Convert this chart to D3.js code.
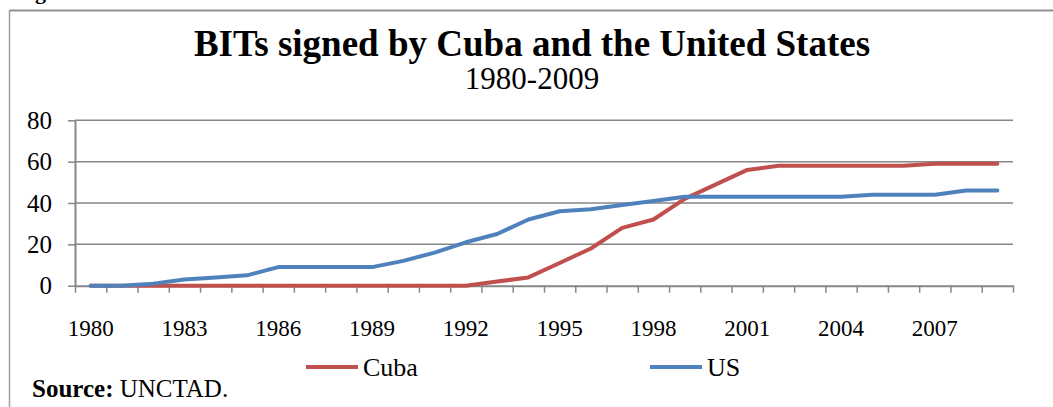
<!DOCTYPE html>
<html>
<head>
<meta charset="utf-8">
<script src="https://cdn.jsdelivr.net/npm/d3@7"></script>
<style>
  html, body { margin: 0; padding: 0; background: #fff; }
  svg { display: block; }
  text { font-family: "Liberation Serif", "Times New Roman", serif; fill: #000; }
</style>
</head>
<body>
<svg id="chart" width="1053" height="407"></svg>
<script>
// ---- data ----
const years = d3.range(1980, 2010);
const cuba = [0,0,0,0,0,0,0,0,0,0,0,0,0,2,4,11,18,28,32,42,49,56,58,58,58,58,58,59,59,59];
const us   = [0,0,1,3,4,5,9,9,9,9,12,16,21,25,32,36,37,39,41,43,43,43,43,43,43,44,44,44,46,46];
const yTicks = [0,20,40,60,80];
const xTickLabels = ["1980","1983","1986","1989","1992","1995","1998","2001","2004","2007"];
const seriesNames = ["Cuba","US"];
const seriesColors = ["#C0504D","#4F81BD"];

// ---- layout ----
const W = 1053, H = 407;
const plot = {left: 75, right: 1013, top: 120.3, bottom: 285.7};
const svg = d3.select("#chart");

// frame of the figure box
svg.append("line").attr("x1",9.5).attr("x2",W).attr("y1",10.5).attr("y2",10.5)
  .attr("stroke","#8f8f8f").attr("stroke-width",2);
svg.append("line").attr("x1",9.5).attr("x2",9.5).attr("y1",10).attr("y2",H)
  .attr("stroke","#a0a0a0").attr("stroke-width",1.5);
// caption above the box, mostly outside the picture (as in the reference)
svg.append("text").attr("x",15.5).attr("y",-1).attr("font-weight","bold")
  .attr("font-size",22).text("Figure");

// titles
svg.append("text").attr("x",532).attr("y",56).attr("text-anchor","middle")
  .attr("font-weight","bold").attr("font-size",37)
  .text("BITs signed by Cuba and the United States");
svg.append("text").attr("x",532).attr("y",89).attr("text-anchor","middle")
  .attr("font-size",31).text("1980-2009");

// scales
const x = d3.scaleBand().domain(years).range([plot.left, plot.right]).padding(0);
const xb = d3.scaleLinear().domain([0, years.length]).range([plot.left, plot.right]);
const y = d3.scaleLinear().domain([0,80]).range([plot.bottom, plot.top]);
const cx = d => x(d) + x.bandwidth()/2;

// gridlines
svg.append("g").selectAll("line").data(yTicks.filter(v => v > 0)).join("line")
  .attr("x1", plot.left).attr("x2", plot.right)
  .attr("y1", d => y(d)).attr("y2", d => y(d))
  .attr("stroke","#868686").attr("stroke-width",1.5);

// y axis
const yAxis = svg.append("g").attr("transform",`translate(${plot.left},0)`)
  .call(d3.axisLeft(y).tickValues(yTicks).tickSizeInner(7).tickSizeOuter(0).tickFormat(""));
yAxis.select(".domain").attr("stroke","#868686").attr("stroke-width",2);
yAxis.selectAll(".tick line").attr("stroke","#868686").attr("stroke-width",1.5);
svg.append("g").selectAll("text").data(yTicks).join("text")
  .attr("x", 52).attr("y", d => y(d)).attr("dy","0.35em").attr("text-anchor","end")
  .attr("font-size",25).text(d => d);

// x axis (ticks between categories)
const xAxis = svg.append("g").attr("transform",`translate(0,${plot.bottom})`)
  .call(d3.axisBottom(xb).tickValues(d3.range(years.length+1)).tickSizeInner(7).tickSizeOuter(0).tickFormat(""));
xAxis.select(".domain").attr("stroke","#868686").attr("stroke-width",2);
xAxis.selectAll(".tick line").attr("stroke","#868686").attr("stroke-width",1.5);

// x labels
svg.append("g").selectAll("text").data(xTickLabels).join("text")
  .attr("x", d => cx(+d)).attr("y", 336).attr("text-anchor","middle")
  .attr("font-size",23).text(d => d);

// lines
const line = d3.line().x((d,i) => cx(years[i])).y(d => y(d));
[cuba, us].forEach((s, k) => {
  svg.append("path").datum(s).attr("d", line).attr("fill","none")
    .attr("stroke", seriesColors[k]).attr("stroke-width",4)
    .attr("stroke-linejoin","round").attr("stroke-linecap","round");
});

// legend
const legX = [306, 650];
const lg = svg.append("g").selectAll("g").data(seriesNames).join("g");
lg.append("line").attr("x1",(d,i)=>legX[i]).attr("x2",(d,i)=>legX[i]+52)
  .attr("y1",367).attr("y2",367).attr("stroke",(d,i)=>seriesColors[i]).attr("stroke-width",4);
lg.append("text").attr("x",(d,i)=>legX[i]+57).attr("y",376).attr("font-size",26).text(d=>d);

// source
const src = svg.append("text").attr("x",32).attr("y",397).attr("font-size",25);
src.append("tspan").attr("font-weight","bold").text("Source:");
src.append("tspan").text(" UNCTAD.");
</script>
</body>
</html>
